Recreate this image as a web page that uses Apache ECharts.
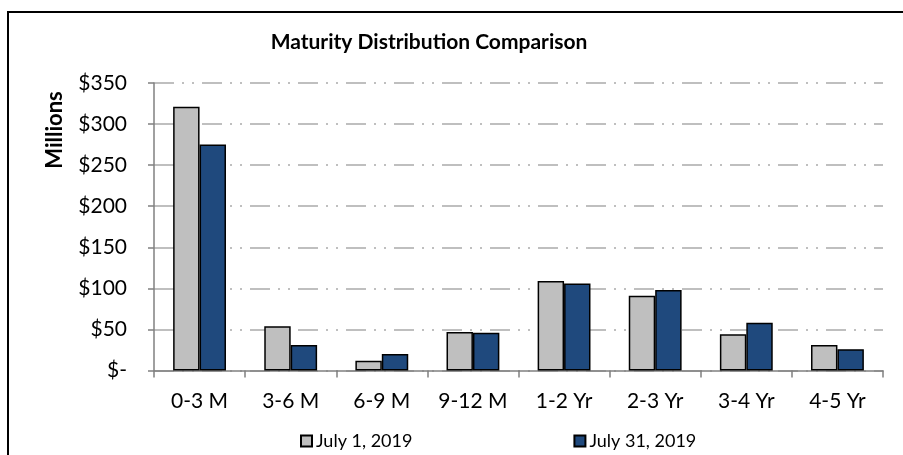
<!DOCTYPE html>
<html><head><meta charset="utf-8">
<script src="https://cdn.jsdelivr.net/npm/echarts@6/dist/echarts.min.js"></script>
<style>html,body{margin:0;padding:0;background:#fff}#c{width:903px;height:455px}</style>
</head><body><div id="c"></div>
<script>
const categories = ['0-3 M','3-6 M','6-9 M','9-12 M','1-2 Yr','2-3 Yr','3-4 Yr','4-5 Yr'];
const july1 = [321, 54, 12, 47, 109, 91, 44, 31];
const july31 = [275, 31, 20, 46, 106, 98, 58, 26];
const seriesNames = ['July 1, 2019','July 31, 2019'];
const yTicks = [0, 50, 100, 150, 200, 250, 300, 350];
const yTitle = 'Millions';
const FONT = 'Lato, "Open Sans", sans-serif';
const chart = echarts.init(document.getElementById('c'), null, {renderer:'canvas'});
chart.setOption({
  animation:false,
  backgroundColor:'#fff',
  title:{text:'Maturity Distribution Comparison', left:424, top:27, textAlign:'center',
    textStyle:{fontFamily:FONT, fontWeight:'bold', fontSize:21, color:'#000'}},
  graphic:[
    {type:'rect', shape:{x:8, y:12, width:1000, height:600},
     style:{fill:'none', stroke:'#000', lineWidth:2}, silent:true, z:100},
    {type:'text', x:55, y:130, rotation:Math.PI/2, silent:true,
     style:{text:yTitle, fontFamily:FONT, fontWeight:'bold', fontSize:22, fill:'#000',
       align:'center', verticalAlign:'middle'}}
  ],
  grid:{left:154, right:20, top:83, bottom:84.5, containLabel:false},
  legend:{data:seriesNames, top:427, left:295, itemGap:161, itemWidth:11, itemHeight:11,
    icon:'rect', textStyle:{fontFamily:FONT, fontSize:18, color:'#000', padding:[0,0,0,-1]}},
  xAxis:{type:'category', data:categories,
    axisLine:{lineStyle:{color:'#808080', width:1.5}},
    axisTick:{show:true, length:7, lineStyle:{color:'#808080', width:1.5}},
    axisLabel:{fontFamily:FONT, fontSize:21, color:'#000', margin:20}},
  yAxis:{type:'value', min:0, max:350, interval:50,
    axisLine:{show:true, lineStyle:{color:'#808080', width:1.5}},
    axisTick:{show:true, length:6, lineStyle:{color:'#808080', width:1.5}},
    axisLabel:{fontFamily:FONT, fontSize:21, color:'#000', margin:27,
      formatter:v => yTicks.includes(v) ? (v===0 ? '$-' : '$'+v) : ''},
    splitLine:{show:true, lineStyle:{color:'#bfbfbf', width:2, type:[20,8,2,8,2,8]}}},
  series:[
    {name:seriesNames[0], type:'bar', data:july1, barGap:'0%', barCategoryGap:'42%',
     itemStyle:{color:'#bfbfbf', borderColor:'#000', borderWidth:1.5}},
    {name:seriesNames[1], type:'bar', data:july31,
     itemStyle:{color:'#1f497d', borderColor:'#000', borderWidth:1.5}}
  ]
});
</script></body></html>
